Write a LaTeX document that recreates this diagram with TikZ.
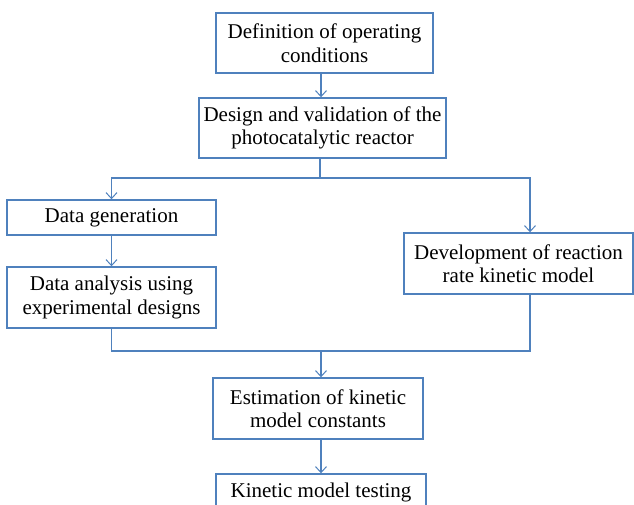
\documentclass[tikz,border=0pt]{standalone}
\usepackage{fontspec}
\setmainfont{Liberation Serif}
\usetikzlibrary{arrows.meta}
\definecolor{lineblue}{RGB}{79,129,189}
\begin{document}
\begin{tikzpicture}[x=1pt,y=-1pt,
  box/.style={draw=lineblue,line width=1.4pt,rectangle,align=center,inner sep=0pt,
    font=\fontsize{21}{23.5}\selectfont,text=black},
  conn/.style={draw=lineblue,line width=1.4pt},
  arr/.style={conn,-{Straight Barb[length=6pt,width=11pt,line width=1pt]}}]
\useasboundingbox (0,0) rectangle (634,505);
\begin{scope}
\clip (0,0) rectangle (634,505);
\node[box,minimum width=217pt,minimum height=60pt] (b1) at (324.5,43) {Definition of operating\\conditions};
\node[box,minimum width=247pt,minimum height=60pt] (b2) at (322.5,128) {Design and validation of the\\photocatalytic reactor};
\node[box,minimum width=209pt,minimum height=35pt] (b3) at (111.5,217.5) {Data generation};
\node[box,minimum width=209pt,minimum height=61pt] (b4) at (111.5,297.5) {Data analysis using\\experimental designs};
\node[box,minimum width=229pt,minimum height=61pt] (b5) at (518.5,263.5) {Development of reaction\\rate kinetic model};
\node[box,minimum width=210pt,minimum height=61pt] (b6) at (318,408.5) {Estimation of kinetic\\model constants};
\node[box,minimum width=210pt,minimum height=36pt] (b7) at (321,492) {Kinetic model testing};
\coordinate (j1) at (320,178);
\coordinate (j2) at (321,351);
\draw[arr] (b1.south -| 321,0) -- (b2.north -| 321,0);
\draw[conn] (b2.south -| j1) -- (j1);
\draw[arr] (j1) -| (b3.north);
\draw[arr] (j1) -| (b5.north -| 530,0);
\draw[arr] (b3.south) -- (b4.north);
\draw[conn] (b4.south) |- (j2);
\draw[conn] (b5.south -| 530,0) |- (j2);
\draw[arr] (j2) -- (b6.north -| j2);
\draw[arr] (b6.south -| j2) -- (b7.north -| j2);
\end{scope}
\end{tikzpicture}
\end{document}
